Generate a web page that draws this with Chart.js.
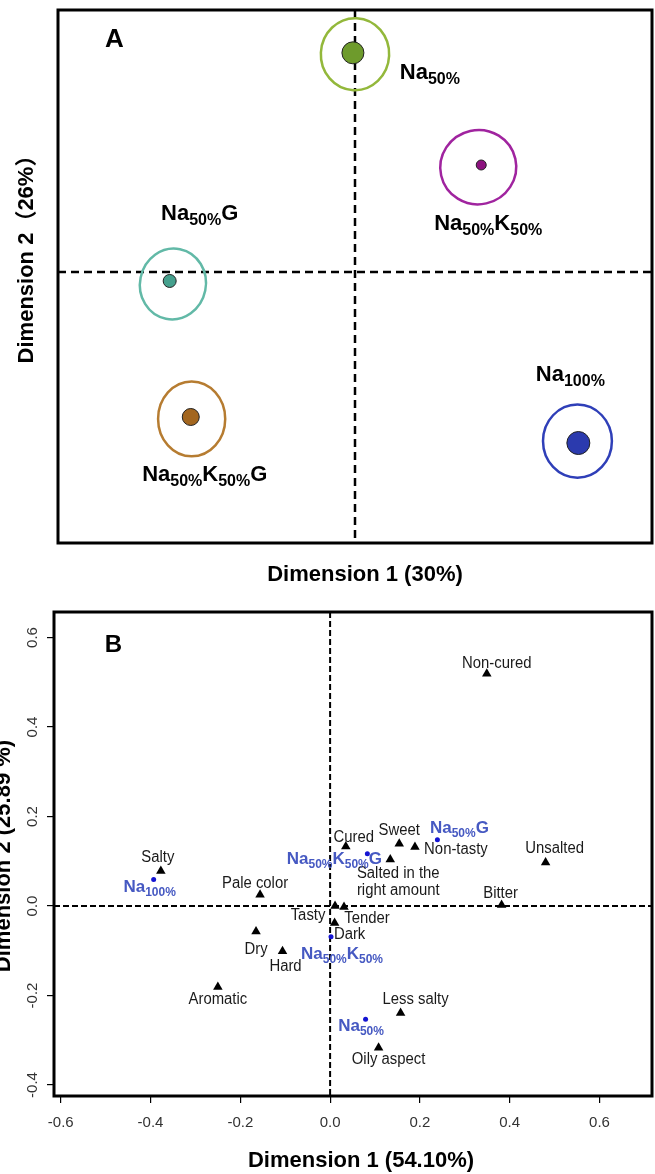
<!DOCTYPE html>
<html>
<head>
<meta charset="utf-8">
<script src="https://cdn.jsdelivr.net/npm/chart.js@4.4.1/dist/chart.umd.min.js"></script>
<style>
  body { margin: 0; background: #fff; }
  #wrap { position: relative; width: 655px; height: 1174px; overflow: hidden; }
  canvas { position: absolute; left: 0; }
  #chartA { top: 0; }
  #chartB { top: 595px; }
</style>
</head>
<body>
<div id="wrap">
  <canvas id="chartA" width="655" height="595"></canvas>
  <canvas id="chartB" width="655" height="579"></canvas>
</div>
<script>
/////////////////////////////////////////////////////////////
// data - panel A (sample map, confidence ellipses)
/////////////////////////////////////////////////////////////
// {..} marks a subscript
const groupsA = ['Na{50%}', 'Na{50%}K{50%}', 'Na{50%}G', 'Na{50%}K{50%}G', 'Na{100%}']
const dim1A = [-0.007, 0.425, -0.624, -0.553, 0.752]
const dim2A = [0.809, 0.395, -0.033, -0.535, -0.631]
// ellipse centre, half axes and tilt (radians)
const ellXA = [0.000, 0.415, -0.613, -0.550, 0.749]
const ellYA = [0.804, 0.387, -0.044, -0.542, -0.624]
const ellRxA = [0.115, 0.128, 0.111, 0.113, 0.116]
const ellRyA = [0.133, 0.137, 0.131, 0.138, 0.135]
const ellTiltA = [0.05, -0.22, 0.2, 0, 0]

/////////////////////////////////////////////////////////////
// data - panel B (attributes + samples)
/////////////////////////////////////////////////////////////
const attrB = ['Non-cured', 'Cured', 'Sweet', 'Non-tasty', 'Salted in the\nright amount', 'Unsalted',
    'Salty', 'Pale color', 'Bitter', 'Tasty', 'Tender', 'Dark', 'Dry', 'Hard', 'Aromatic',
    'Less salty', 'Oily aspect']
const attrXB = [0.349, 0.035, 0.154, 0.189, 0.134, 0.480, -0.377, -0.156, 0.382, 0.011, 0.031,
    0.010, -0.165, -0.106, -0.250, 0.157, 0.108]
const attrYB = [0.519, 0.133, 0.139, 0.132, 0.104, 0.097, 0.078, 0.025, 0.002, 0.000, -0.002,
    -0.038, -0.057, -0.101, -0.181, -0.239, -0.317]
const prodB = ['Na{50%}G', 'Na{50%}K{50%}G', 'Na{100%}', 'Na{50%}K{50%}', 'Na{50%}']
const prodXB = [0.239, 0.083, -0.393, 0.002, 0.079]
const prodYB = [0.148, 0.117, 0.059, -0.069, -0.253]
const ticksXB = [-0.6, -0.4, -0.2, 0, 0.2, 0.4, 0.6]
const ticksYB = [-0.4, -0.2, 0, 0.2, 0.4, 0.6]

/////////////////////////////////////////////////////////////
// styles
/////////////////////////////////////////////////////////////
const FAMILY = '"Liberation Sans", Arial, "Noto Sans CJK SC", sans-serif'
Chart.defaults.font.family = FAMILY

const lineColA = ['#93b83b', '#a0249f', '#62b9a7', '#b67c31', '#2f3fb8']
const dotColA = ['#6e9b2c', '#8c127f', '#45a08d', '#a3661f', '#2b3aae']
const dotSizeA = [11, 5, 6.5, 8.5, 11.5]
const labelOffA = [[77, 18], [7, 57], [30, -69], [14, 56], [-8, -70]]   // px from the point

const attrOffB = [[10, -10], [8, -9], [0, -13], [41, 3], [8, 22.5], [9, -14], [-3, -14], [-5, -11],
    [-1, -12], [-27, 10], [23, 12], [15, 12], [0, 18], [3, 15], [0, 13], [15, -13], [10, 12]]
const prodOffB = [[22, -13], [-33, 4], [-4, 6], [11, 16], [-4.5, 6]]

// text with subscripts, centred on cx / cy
function richText(ctx, s, cx, cy, size, subSize, drop, color) {
    const parts = []
    s.split(/(\{[^}]*\})/).forEach(p => {
        if (!p) return
        if (p[0] === '{') parts.push({t: p.slice(1, -1), sub: true})
        else parts.push({t: p, sub: false})
    })
    const fMain = 'bold ' + size + 'px ' + FAMILY
    const fSub = 'bold ' + subSize + 'px ' + FAMILY
    let w = 0
    parts.forEach(p => {
        ctx.font = p.sub ? fSub : fMain
        p.w = ctx.measureText(p.t).width
        w += p.w
    })
    ctx.save()
    ctx.fillStyle = color
    ctx.textAlign = 'left'
    ctx.textBaseline = 'alphabetic'
    let x = cx - w / 2
    const base = cy + size * 0.36
    parts.forEach(p => {
        ctx.font = p.sub ? fSub : fMain
        ctx.fillText(p.t, x, p.sub ? base + drop : base)
        x += p.w
    })
    ctx.restore()
}

function plainText(ctx, s, cx, cy, font, color, rot, sx) {
    ctx.save()
    ctx.font = font
    ctx.fillStyle = color
    ctx.textAlign = 'center'
    ctx.textBaseline = 'middle'
    ctx.translate(cx, cy)
    if (rot) ctx.rotate(rot)
    if (sx) ctx.scale(sx, 1)
    ctx.fillText(s, 0, 0)
    ctx.restore()
}

function dashedCross(chart, width, dash) {
    const {ctx, chartArea: a, scales: {x, y}} = chart
    const x0 = x.getPixelForValue(0)
    const y0 = y.getPixelForValue(0)
    ctx.save()
    ctx.strokeStyle = '#000'
    ctx.lineWidth = width
    ctx.setLineDash(dash)
    ctx.beginPath()
    ctx.moveTo(x0, a.top)
    ctx.lineTo(x0, a.bottom)
    ctx.moveTo(a.left, y0)
    ctx.lineTo(a.right, y0)
    ctx.stroke()
    ctx.restore()
}

function frame(chart) {
    const {ctx, chartArea: a} = chart
    ctx.save()
    ctx.strokeStyle = '#000'
    ctx.lineWidth = 3
    ctx.strokeRect(a.left, a.top, a.right - a.left, a.bottom - a.top)
    ctx.restore()
}

/////////////////////////////////////////////////////////////
// panel A
/////////////////////////////////////////////////////////////
const panelA = {
    id: 'panelA',
    beforeDatasetsDraw(chart) {
        const {ctx, scales: {x, y}} = chart
        dashedCross(chart, 2.5, [8, 5])
        ctx.save()
        ctx.lineWidth = 2.5
        groupsA.forEach((g, i) => {
            const cx = x.getPixelForValue(ellXA[i])
            const cy = y.getPixelForValue(ellYA[i])
            const rx = x.getPixelForValue(ellXA[i] + ellRxA[i]) - cx
            const ry = cy - y.getPixelForValue(ellYA[i] + ellRyA[i])
            ctx.strokeStyle = lineColA[i]
            ctx.beginPath()
            ctx.ellipse(cx, cy, rx, ry, ellTiltA[i], 0, Math.PI * 2)
            ctx.stroke()
        })
        ctx.restore()
    },
    afterDraw(chart) {
        const {ctx, chartArea: a, scales: {x, y}} = chart
        frame(chart)
        groupsA.forEach((g, i) => {
            richText(ctx, g, x.getPixelForValue(dim1A[i]) + labelOffA[i][0],
                y.getPixelForValue(dim2A[i]) + labelOffA[i][1], 22, 16, 5, '#000')
        })
        plainText(ctx, 'A', 114.5, 39.5, 'bold 26px ' + FAMILY, '#000')
        plainText(ctx, 'Dimension 1 (30%)', 365, 575, 'bold 22px ' + FAMILY, '#000')
        plainText(ctx, 'Dimension 2\uFF0826%\uFF09', 27, 254, 'bold 22px ' + FAMILY, '#000', -Math.PI / 2)
    }
}

const chartA = new Chart(document.getElementById('chartA'), {
    type: 'scatter',
    data: {
        datasets: [{
            label: 'samples',
            data: groupsA.map((g, i) => ({x: dim1A[i], y: dim2A[i]})),
            pointRadius: dotSizeA,
            pointBackgroundColor: dotColA,
            pointBorderColor: '#222',
            pointBorderWidth: 1,
        }]
    },
    options: {
        responsive: false,
        animation: false,
        layout: {autoPadding: false, padding: {left: 58, top: 10, right: 3, bottom: 52}},
        plugins: {legend: {display: false}, tooltip: {enabled: false}},
        scales: {
            x: {display: false, min: -1, max: 1},
            y: {display: false, min: -1, max: 0.967},
        }
    },
    plugins: [panelA]
})

/////////////////////////////////////////////////////////////
// panel B
/////////////////////////////////////////////////////////////
const panelB = {
    id: 'panelB',
    beforeDatasetsDraw(chart) {
        dashedCross(chart, 2, [6, 3])
    },
    afterDraw(chart) {
        const {ctx, chartArea: a, scales: {x, y}} = chart
        frame(chart)
        attrB.forEach((t, i) => {
            const lines = t.split('\n')
            const cx = x.getPixelForValue(attrXB[i]) + attrOffB[i][0]
            const cy = y.getPixelForValue(attrYB[i]) + attrOffB[i][1]
            lines.forEach((l, k) => {
                plainText(ctx, l, cx, cy + (k - (lines.length - 1) / 2) * 17, '16px ' + FAMILY, '#1a1a1a', 0, 0.93)
            })
        })
        prodB.forEach((t, i) => {
            richText(ctx, t, x.getPixelForValue(prodXB[i]) + prodOffB[i][0],
                y.getPixelForValue(prodYB[i]) + prodOffB[i][1], 17, 12, 4, '#4659c2')
        })
        plainText(ctx, 'B', 113.5, 50, 'bold 24px ' + FAMILY, '#000')
        plainText(ctx, 'Dimension 1 (54.10%)', 361, 566, 'bold 22px ' + FAMILY, '#000')
        plainText(ctx, 'Dimension 2 (25.89 %)', 4, 261, 'bold 22px ' + FAMILY, '#000', -Math.PI / 2)
    }
}

const chartB = new Chart(document.getElementById('chartB'), {
    type: 'scatter',
    data: {
        datasets: [{
            label: 'attributes',
            data: attrB.map((t, i) => ({x: attrXB[i], y: attrYB[i]})),
            pointStyle: 'triangle',
            pointRadius: 5.5,
            backgroundColor: '#000',
            borderColor: '#000',
            borderWidth: 0,
        }, {
            label: 'samples',
            data: prodB.map((t, i) => ({x: prodXB[i], y: prodYB[i]})),
            pointRadius: 2.5,
            backgroundColor: '#1414d2',
            borderWidth: 0,
        }]
    },
    options: {
        responsive: false,
        animation: false,
        layout: {autoPadding: false, padding: {left: 0, top: 17, right: 3, bottom: 0}},
        plugins: {legend: {display: false}, tooltip: {enabled: false}},
        scales: {
            x: {
                min: -0.615,
                max: 0.717,
                afterBuildTicks: s => { s.ticks = ticksXB.map(v => ({value: v})) },
                afterFit: s => { s.height = 78 },
                border: {display: false},
                grid: {drawOnChartArea: false, tickLength: 7, color: '#000', lineWidth: 1.2},
                ticks: {
                    font: {size: 15}, color: '#333', padding: 11, autoSkip: false, maxRotation: 0,
                    callback: v => Number(v).toFixed(1)
                }
            },
            y: {
                min: -0.4246,
                max: 0.657,
                afterBuildTicks: s => { s.ticks = ticksYB.map(v => ({value: v})) },
                afterFit: s => { s.width = 54 },
                border: {display: false},
                grid: {drawOnChartArea: false, tickLength: 7, color: '#000', lineWidth: 1.2},
                ticks: {
                    font: {size: 15}, color: '#333', padding: 1, autoSkip: false,
                    minRotation: 90, maxRotation: 90, crossAlign: 'center',
                    callback: v => Number(v).toFixed(1)
                }
            }
        }
    },
    plugins: [panelB]
})
</script>
</body>
</html>
